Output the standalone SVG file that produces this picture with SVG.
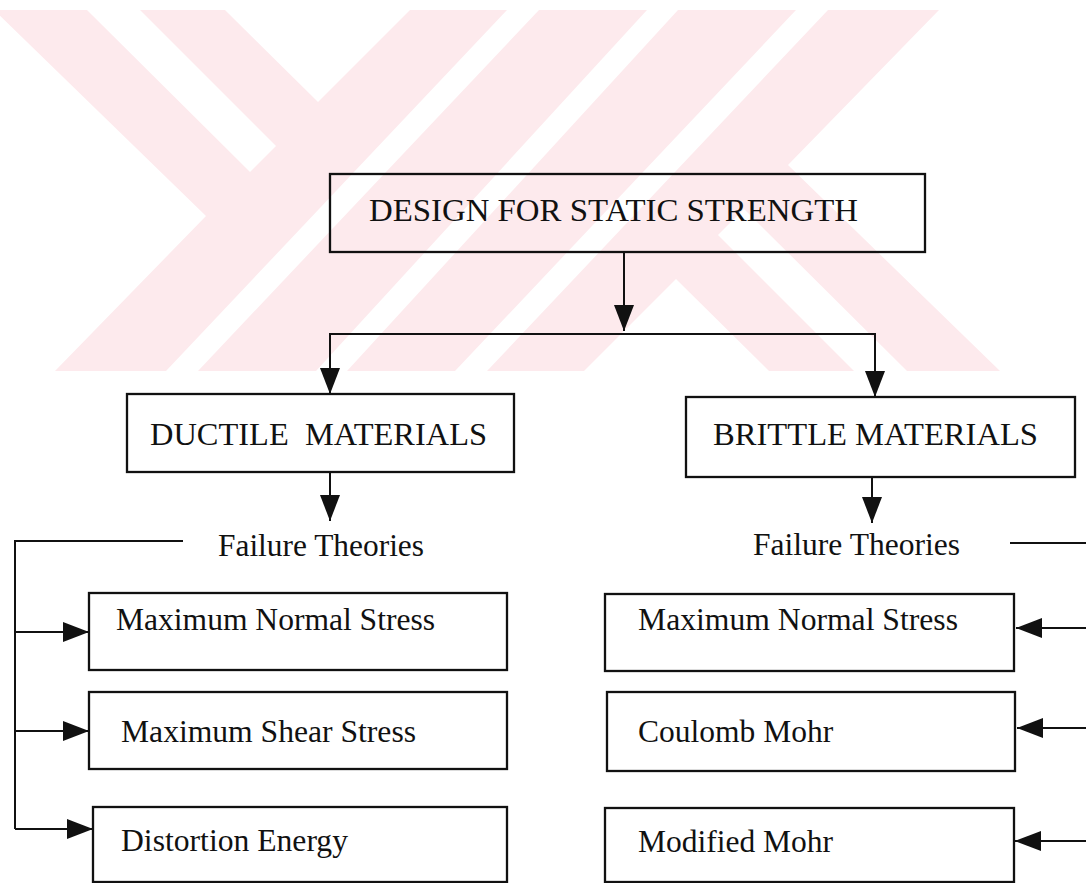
<svg xmlns="http://www.w3.org/2000/svg" width="1086" height="883" viewBox="0 0 1086 883">
<style>
.wm{fill:#fdeaed;stroke:none}
.wc{fill:#ffffff;stroke:none}
.box{fill:none;stroke:#111;stroke-width:2.3}
.ln{fill:none;stroke:#111;stroke-width:2}
.t{font-family:"Liberation Serif","Times New Roman",serif;fill:#111}
.big{font-size:32px}
.mid{font-size:31px}
.sm{font-size:31.5px}
</style>
<defs>
<marker id="ah" markerUnits="userSpaceOnUse" markerWidth="26" markerHeight="20" refX="26" refY="10" orient="auto" viewBox="0 0 26 20">
<path d="M0,0 L26,10 L0,20 Z" fill="#111"/>
</marker>
</defs>
<rect width="1086" height="883" fill="#ffffff"/>
<g id="watermark">
<polygon class="wm" points="-6,10 939,10 788,165 1000,371 55,371 206,216"/>
<polygon class="wc" points="87,10 140,10 276,146 250,172"/>
<polygon class="wc" points="907,371 854,371 718,235 744,209"/>
<polygon class="wc" points="225,10 410,10 318,102"/>
<polygon class="wc" points="769,371 584,371 676,279"/>
<polygon class="wc" points="507,10 539,10 198,371 166,371"/>
<polygon class="wc" points="487,371 455,371 796,10 828,10"/>
<polygon class="wc" points="647,10 678,10 347,371 316,371"/>
</g>
<g id="connectors">
<line class="ln" x1="624" y1="252" x2="624" y2="331" marker-end="url(#ah)"/>
<polyline class="ln" points="330,393 330,334 875,334 875,396"/>
<line class="ln" x1="330" y1="334" x2="330" y2="394" marker-end="url(#ah)"/>
<line class="ln" x1="875" y1="334" x2="875" y2="397" marker-end="url(#ah)"/>
<line class="ln" x1="330" y1="472" x2="330" y2="521" marker-end="url(#ah)"/>
<line class="ln" x1="872" y1="477" x2="872" y2="523" marker-end="url(#ah)"/>
<polyline class="ln" points="183,541 15,541 15,829"/>
<line class="ln" x1="15" y1="632" x2="89" y2="632" marker-end="url(#ah)"/>
<line class="ln" x1="15" y1="731" x2="89" y2="731" marker-end="url(#ah)"/>
<line class="ln" x1="15" y1="829" x2="93" y2="829" marker-end="url(#ah)"/>
<line class="ln" x1="1010" y1="543" x2="1086" y2="543"/>
<line class="ln" x1="1086" y1="628" x2="1016" y2="628" marker-end="url(#ah)"/>
<line class="ln" x1="1086" y1="728" x2="1017" y2="728" marker-end="url(#ah)"/>
<line class="ln" x1="1086" y1="841" x2="1015" y2="841" marker-end="url(#ah)"/>
</g>
<g id="design">
<rect class="box" x="330" y="174" width="595" height="78"/>
<text class="t big" x="369" y="221" textLength="489" lengthAdjust="spacingAndGlyphs">DESIGN FOR STATIC STRENGTH</text>
</g>
<g id="ductile">
<rect class="box" x="127" y="394" width="387" height="78"/>
<text class="t big" x="150" y="445" xml:space="preserve" textLength="337" lengthAdjust="spacingAndGlyphs">DUCTILE  MATERIALS</text>
</g>
<g id="brittle">
<rect class="box" x="686" y="397" width="389" height="80"/>
<text class="t big" x="713" y="445" textLength="325" lengthAdjust="spacingAndGlyphs">BRITTLE MATERIALS</text>
</g>
<g id="ductile-failure">
<text class="t mid" x="218" y="556" textLength="206" lengthAdjust="spacingAndGlyphs">Failure Theories</text>
</g>
<g id="brittle-failure">
<text class="t mid" x="753" y="555" textLength="207" lengthAdjust="spacingAndGlyphs">Failure Theories</text>
</g>
<g id="d-mns">
<rect class="box" x="89" y="593" width="418" height="77"/>
<text class="t sm" x="116" y="630" textLength="319" lengthAdjust="spacingAndGlyphs">Maximum Normal Stress</text>
</g>
<g id="d-mss">
<rect class="box" x="89" y="692" width="418" height="77"/>
<text class="t sm" x="121" y="742" textLength="295" lengthAdjust="spacingAndGlyphs">Maximum Shear Stress</text>
</g>
<g id="d-de">
<rect class="box" x="93" y="807" width="414" height="75"/>
<text class="t sm" x="121" y="851" textLength="227" lengthAdjust="spacingAndGlyphs">Distortion Energy</text>
</g>
<g id="b-mns">
<rect class="box" x="605" y="594" width="409" height="77"/>
<text class="t sm" x="638" y="630" textLength="320" lengthAdjust="spacingAndGlyphs">Maximum Normal Stress</text>
</g>
<g id="b-cm">
<rect class="box" x="607" y="692" width="408" height="79"/>
<text class="t sm" x="638" y="742">Coulomb Mohr</text>
</g>
<g id="b-mm">
<rect class="box" x="605" y="808" width="409" height="74"/>
<text class="t sm" x="638" y="852">Modified Mohr</text>
</g>
</svg>
